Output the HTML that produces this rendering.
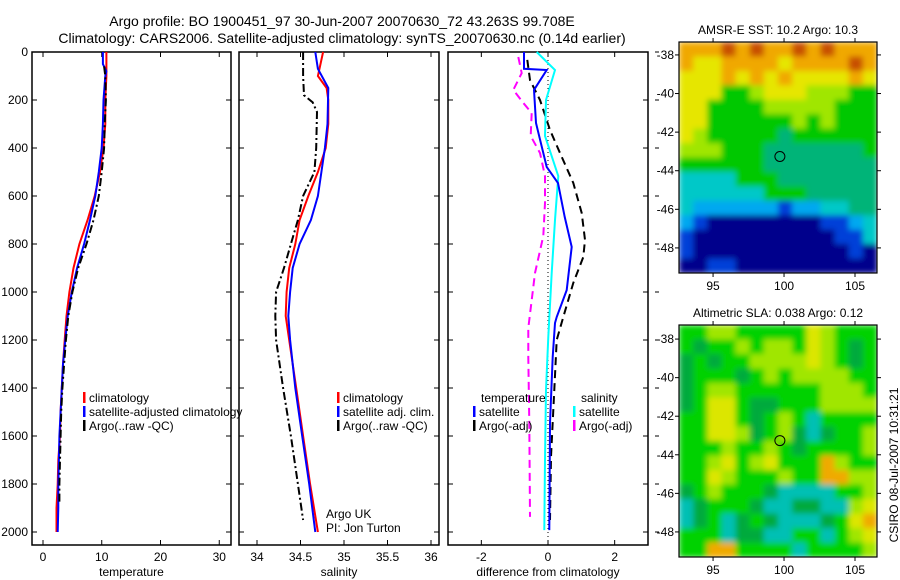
<!DOCTYPE html>
<html><head><meta charset="utf-8"><style>
html,body{margin:0;padding:0;background:#fff;}
svg{display:block;font-family:"Liberation Sans",sans-serif;}
</style></head><body>
<svg id="fig" width="900" height="580" viewBox="0 0 900 580" xmlns="http://www.w3.org/2000/svg">
<defs>
<filter id="smooth" x="0" y="0" width="1" height="1"><feGaussianBlur stdDeviation="3" edgeMode="duplicate"/></filter>
<clipPath id="clipA"><rect x="679" y="42" width="198" height="231"/></clipPath>
<clipPath id="clipB"><rect x="679" y="325" width="198" height="232"/></clipPath>
</defs>
<text x="342" y="26" font-size="14" text-anchor="middle">Argo profile: BO 1900451_97 30-Jun-2007 20070630_72 43.263S 99.708E</text>
<text x="342" y="43" font-size="14" text-anchor="middle">Climatology: CARS2006. Satellite-adjusted climatology: synTS_20070630.nc (0.14d earlier)</text>
<g id="layer"></g>
</svg>
<script>
// ---------- data ----------
const depthTicks = [0,200,400,600,800,1000,1200,1400,1600,1800,2000];
const tempTicks = [0,10,20,30];
const salTicks = [34,34.5,35,35.5,36];
const salTickLabels = ["34","34.5","35","35.5","36"];
const diffTicks = [-2,0,2];

const tClimDepth = [0,50,100,200,300,400,500,600,700,800,900,1000,1100,1200,1300,1400,1500,1600,1700,1800,1900,2000];
const tClim = [10.8,10.8,10.8,10.6,10.6,10.3,9.7,8.8,7.6,6.2,5.2,4.5,4.0,3.7,3.4,3.2,3.0,2.9,2.6,2.5,2.3,2.3];
const tSatDepth = [0,50,80,100,200,300,400,500,600,700,800,900,1000,1100,1200,1300,1400,1500,1600,1700,1800,1900,2000];
const tSat = [10.2,10.2,10.8,10.6,10.3,10.2,10.0,9.5,8.9,8.0,7.0,5.8,4.9,4.2,3.8,3.4,3.2,3.0,2.8,2.7,2.6,2.6,2.5];
const tArgoDepth = [60,100,200,300,400,500,600,700,800,900,1000,1100,1200,1300,1400,1500,1600,1700,1800,1880];
const tArgo = [10.4,10.6,10.7,10.5,10.4,10.0,9.5,8.6,7.4,6.0,5.0,4.3,3.9,3.6,3.3,3.1,3.0,2.9,2.8,2.8];

const sClimDepth = [0,100,150,200,300,400,500,600,700,800,900,1000,1100,1200,1400,1600,1800,2000];
const sClim = [34.76,34.70,34.80,34.82,34.82,34.79,34.70,34.59,34.49,34.44,34.37,34.34,34.33,34.37,34.45,34.53,34.61,34.70];
const sSatDepth = [0,70,150,300,400,500,600,700,800,900,1000,1100,1200,1400,1600,1800,2000];
const sSat = [34.67,34.70,34.82,34.81,34.78,34.74,34.70,34.62,34.49,34.41,34.38,34.36,34.38,34.44,34.52,34.60,34.67];
const sArgoDepth = [0,100,180,210,250,400,500,600,700,800,900,1000,1100,1200,1400,1600,1800,1950];
const sArgo = [34.53,34.53,34.54,34.64,34.69,34.68,34.66,34.53,34.47,34.39,34.31,34.22,34.21,34.22,34.30,34.39,34.47,34.53];

const dTSatDepth = [0,70,75,158,296,479,546,687,812,992,1104,1129,1271,1546,1992];
const dTSat = [-0.72,-0.72,-0.04,-0.42,-0.36,-0.04,0.3,0.5,0.71,0.56,0.26,0.21,0.14,0.06,0.04];
const dTArgoDepth = [33,117,200,325,421,546,671,783,854,962,1104,1200,1408,1687,1950];
const dTArgo = [-0.62,-0.54,-0.24,0.06,0.36,0.76,1.01,1.11,1.06,0.76,0.46,0.26,0.19,0.09,0.06];
const dSSatDepth = [0,75,200,350,517,700,921,1187,1408,1700,1992];
const dSSat = [-0.34,0.21,-0.06,-0.09,0.31,0.21,0.11,0.01,-0.06,-0.09,-0.11];
const dSArgoDepth = [21,88,158,212,254,350,421,517,629,767,921,1150,1271,1546,1937];
const dSArgo = [-0.89,-0.79,-1.04,-0.74,-0.49,-0.52,-0.24,-0.09,-0.09,-0.14,-0.39,-0.59,-0.59,-0.56,-0.54];

const lonTicks = [95,100,105];
const latTicks = [-38,-40,-42,-44,-46,-48];
const argoLon = 99.708, argoLat = -43.263;
const sstRows = [
"88898988989888","87788887888898","77787878777787","77755677766655",
"77555566666555","77555555656555","76555554555555","66655544444445",
"55555544444444","33335554444444","33333355544444","32222221223344",
"21000000001123","10000000000113","10000000000010","00110000000000"];
const slaRows = [
"55665555576555","54556566576545","45455666676545","45554565666655",
"45665555556665","45775445556666","55775456535555","55776456434556",
"55565565455556","55675675558655","55765556558866","45655543333556",
"34555433443367","34534543334578","55534433553567","55885555355556"];
const sstColors = ["#00008c","#0040d8","#00a8f0","#00c8c8","#00b478","#00c800","#a0e600","#e6e600","#f0a800","#c85000"];
const slaColors = ["#00008c","#0040d8","#00a8f0","#00c0b4","#00aa3c","#00d200","#a0e600","#dce600","#f0aa00","#c85000"];

// ---------- helpers ----------
const NS = "http://www.w3.org/2000/svg";
const layer = document.getElementById('layer');
function mk(tag, attrs, parent){
  const e = document.createElementNS(NS, tag);
  for (const k in attrs) e.setAttribute(k, attrs[k]);
  (parent||layer).appendChild(e);
  return e;
}
const TOP = 52, PPM = 0.24, BOT = 545;
const yD = d => TOP + d*PPM;

const panels = [
  {x0:32,x1:231,vmin:-1.87,vmax:32.0,name:'temperature-panel',label:'temperature',ticks:tempTicks,tl:tempTicks.map(String),yl:true},
  {x0:239,x1:439,vmin:33.793,vmax:36.092,name:'salinity-panel',label:'salinity',ticks:salTicks,tl:salTickLabels},
  {x0:448,x1:648,vmin:-3.0,vmax:3.0,name:'difference-panel',label:'difference from climatology',ticks:diffTicks,tl:diffTicks.map(String)}
];
panels.forEach(p => { p.sx = v => p.x0 + (v - p.vmin)/(p.vmax - p.vmin)*(p.x1 - p.x0); });

panels.forEach(p => {
  const g = mk('g', {});
  
  
  const r = mk('rect', {x:p.x0, y:TOP, width:p.x1-p.x0, height:BOT-TOP, fill:'none', stroke:'#000', 'stroke-width':1.5}, g);
  
  
  p.ticks.forEach((t,i) => {
    const x = p.sx(t);
    mk('line', {x1:x,y1:BOT,x2:x,y2:BOT-5,stroke:'#000'}, g);
    mk('line', {x1:x,y1:TOP,x2:x,y2:TOP+5,stroke:'#000'}, g);
    const tx = mk('text', {x:x, y:BOT+16, 'font-size':12, 'text-anchor':'middle'}, g);
    tx.textContent = p.tl[i];
    
    
  });
  depthTicks.forEach(d => {
    const y = yD(d);
    mk('line', {x1:p.x0,y1:y,x2:p.x0+5,y2:y,stroke:'#000'}, g);
    mk('line', {x1:p.x1,y1:y,x2:p.x1-5,y2:y,stroke:'#000'}, g);
    if (p.yl) {
      const tx = mk('text', {x:p.x0-4, y:y+4, 'font-size':12, 'text-anchor':'end'}, g);
      tx.textContent = String(d);
      
      
    }
  });
  const xl = mk('text', {x:(p.x0+p.x1)/2, y:576, 'font-size':12, 'text-anchor':'middle'}, g);
  xl.textContent = p.label;
  
  
});
depthTicks.forEach(d => { mk('line',{x1:655,y1:yD(d),x2:659,y2:yD(d),stroke:'#000'}); });
const zl = mk('line', {x1:panels[2].sx(0), y1:TOP, x2:panels[2].sx(0), y2:BOT, stroke:'#000', 'stroke-dasharray':'1,3'});



function series(p, depths, vals, color, dash, name, w){
  const pts = depths.map((d,i) => p.sx(vals[i]).toFixed(1) + ',' + yD(d).toFixed(1)).join(' ');
  const pl = mk('polyline', {points:pts, fill:'none', stroke:color, 'stroke-width':w||2, 'stroke-dasharray':dash||'none'});
  
  
}
const P = panels;
series(P[0], tClimDepth, tClim, '#f00', null, 'temp-climatology-line');
series(P[0], tSatDepth, tSat, '#00f', null, 'temp-satellite-line');
series(P[0], tArgoDepth, tArgo, '#000', '8,3,2,3', 'temp-argo-line');
series(P[1], sClimDepth, sClim, '#f00', null, 'sal-climatology-line');
series(P[1], sSatDepth, sSat, '#00f', null, 'sal-satellite-line');
series(P[1], sArgoDepth, sArgo, '#000', '8,3,2,3', 'sal-argo-line');
series(P[2], dTArgoDepth, dTArgo, '#000', '8,5', 'diff-temp-argo-line');
series(P[2], dSArgoDepth, dSArgo, '#f0f', '8,5', 'diff-sal-argo-line');
series(P[2], dSSatDepth, dSSat, '#0ff', null, 'diff-sal-satellite-line');
series(P[2], dTSatDepth, dTSat, '#00f', null, 'diff-temp-satellite-line');

function legend(x, y, color, label){
  const g = mk('g', {});
  
  
  if (color) mk('rect', {x:x, y:y-10, width:2.5, height:11, fill:color}, g);
  const t = mk('text', {x:x+6, y:y, 'font-size':12}, g);
  t.textContent = label;
}
legend(83,402,'#f00','climatology');
legend(83,416,'#00f','satellite-adjusted climatology');
legend(83,430,'#000','Argo(..raw -QC)');
legend(337,402,'#f00','climatology');
legend(337,416,'#00f','satellite adj. clim.');
legend(337,430,'#000','Argo(..raw -QC)');
legend(475,402,null,'temperature');
legend(473,416,'#00f','satellite');
legend(473,430,'#000','Argo(-adj)');
legend(575,402,null,'salinity');
legend(573,416,'#0ff','satellite');
legend(573,430,'#f0f','Argo(-adj)');
const pi = mk('text', {x:326, y:518, 'font-size':12}); pi.textContent = 'Argo UK';
 
const pi2 = mk('text', {x:326, y:532, 'font-size':12}); pi2.textContent = 'PI: Jon Turton';
 

// ---------- maps ----------
function drawMap(m){
  const g = mk('g', {});
  
  
  const lx = v => m.x0 + (v - 92.6)/(106.55 - 92.6)*(m.x1 - m.x0);
  const ly = v => m.y0 + (m.latTop - v)/(m.latTop - (-49.3))*(m.y1 - m.y0);
  const clipG = mk('g', {'clip-path':'url(#' + m.clip + ')'}, g);
  const cg = mk('g', {filter:'url(#smooth)'}, clipG);
  const rows = m.rows, nr = rows.length, nc = rows[0].length;
  const cw = (m.x1-m.x0)/nc, ch = (m.y1-m.y0)/nr;
  for (let r=0;r<nr;r++) for (let c=0;c<nc;c++){
    const cell = mk('rect', {x:(m.x0+c*cw).toFixed(2), y:(m.y0+r*ch).toFixed(2), width:(cw+0.6).toFixed(2), height:(ch+0.6).toFixed(2), fill:m.colors[+rows[r][c]]}, cg);
    
    
  }
  mk('rect', {x:m.x0, y:m.y0, width:m.x1-m.x0, height:m.y1-m.y0, fill:'none', stroke:'#000', 'stroke-width':1.2}, g);
  lonTicks.forEach(v => {
    const x = lx(v);
    mk('line',{x1:x,y1:m.y0,x2:x,y2:m.y0-4,stroke:'#000'},g);
    mk('line',{x1:x,y1:m.y1,x2:x,y2:m.y1+4,stroke:'#000'},g);
    const t = mk('text',{x:x,y:m.y1+17,'font-size':12,'text-anchor':'middle'},g); t.textContent = String(v);
    
    
  });
  latTicks.forEach(v => {
    const y = ly(v);
    mk('line',{x1:m.x0,y1:y,x2:m.x0-4,y2:y,stroke:'#000'},g);
    mk('line',{x1:m.x1,y1:y,x2:m.x1+4,y2:y,stroke:'#000'},g);
    const t = mk('text',{x:m.x0-5,y:y+4,'font-size':12,'text-anchor':'end'},g); t.textContent = String(v);
    
    
  });
  const c = mk('circle',{cx:lx(argoLon),cy:ly(argoLat),r:5,fill:'none',stroke:'#000','stroke-width':1},g);
  
  
  const tt = mk('text',{x:(m.x0+m.x1)/2,y:m.y0-8,'font-size':12,'text-anchor':'middle'},g);
  tt.textContent = m.title;
  
  
}
drawMap({name:'sst-map',clip:'clipA',x0:679,x1:877,y0:42,y1:273,latTop:-37.33,rows:sstRows,colors:sstColors,title:'AMSR-E SST: 10.2 Argo: 10.3'});
drawMap({name:'sla-map',clip:'clipB',x0:679,x1:877,y0:325,y1:557,latTop:-37.27,rows:slaRows,colors:slaColors,title:'Altimetric SLA: 0.038 Argo: 0.12'});
const st = mk('text',{x:0,y:0,'font-size':12,'text-anchor':'middle',transform:'translate(898,465) rotate(-90)'});
st.textContent = 'CSIRO 08-Jul-2007 10:31:21';


</script>
</body></html>
